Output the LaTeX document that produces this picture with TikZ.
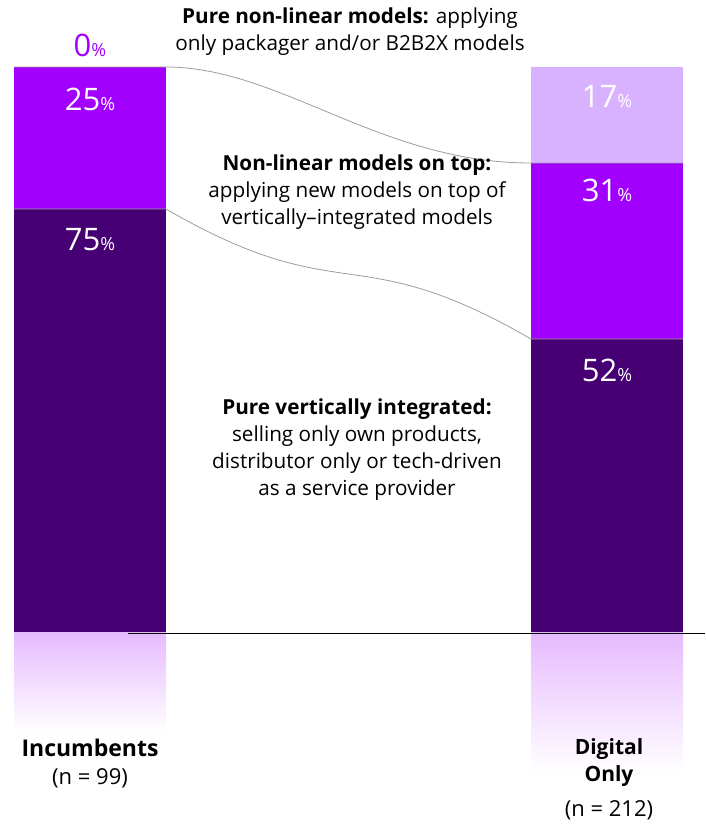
\documentclass[tikz,border=0pt]{standalone}
\usepackage{fontspec}
\setmainfont{Open Sans}
\usepackage{tikz}
\usetikzlibrary{positioning}

\definecolor{accpurple}{HTML}{A100FF}
\definecolor{accdark}{HTML}{460073}
\definecolor{acclight}{HTML}{D9B2FF}
\definecolor{accfade}{HTML}{E6BAFF}
\definecolor{flowgray}{HTML}{9C9C9C}

\newcommand{\pctsign}{{\fontsize{18}{18}\selectfont\%}}

\tikzset{
    seg/.style={minimum width=152pt, inner sep=0pt, outer sep=0pt, anchor=north west, draw=none},
    pct/.style={text=white, font=\fontsize{31}{31}\selectfont, inner sep=0pt},
    note/.style={align=center, font=\fontsize{20.7}{27}\selectfont, inner sep=0pt},
    flow/.style={draw=flowgray, line width=0.8pt},
}

\begin{document}
\begin{tikzpicture}[x=1pt, y=-1pt]
        \useasboundingbox (0,0) rectangle (705,825);

        % incumbents
        \node[seg, fill=accpurple, minimum height=142pt] (inc25) at (14,67) {};
        \node[seg, fill=accdark, minimum height=424pt] (inc75) at (14,209) {};
        \shade[top color=accfade, bottom color=white] (14,632.5) rectangle (166,732);

        % digital only
        \node[seg, fill=acclight, minimum height=96pt] (dig17) at (531,67) {};
        \node[seg, fill=accpurple, minimum height=176pt] (dig31) at (531,163) {};
        \node[seg, fill=accdark, minimum height=294pt] (dig52) at (531,339) {};
        \shade[top color=accfade, bottom color=white] (531,632.5) rectangle (683,772);

        % baseline
        \coordinate (axisL) at (128,633);
        \coordinate (axisR) at (705,633);
        \draw[black, line width=1pt] (axisL) -- (axisR);

        % flows
        \draw[flow] (inc25.north west) -- (inc25.north east)
            .. controls +(114,0) and +(-151,0) .. (dig31.north west) -- (dig31.north east);
        \draw[flow] (inc75.north west) -- (inc75.north east)
            .. controls +(178,103) and +(-178,-103) .. (dig52.north west) -- (dig52.north east);

        % percentages
        \node[pct, text=accpurple] (p0) at (90,45) {0\pctsign};
        \node[pct] (p25) at (90,99) {25\pctsign};
        \node[pct] (p75) at (90,240) {75\pctsign};
        \node[pct] (p17) at (607,97) {17\pctsign};
        \node[pct] (p31) at (607,190) {31\pctsign};
        \node[pct] (p52) at (607,370) {52\pctsign};

        % notes
        \node[note] (topnote) at (350,32) {\textbf{Pure non-linear models:} applying\\only packager and/or B2B2X models};
        \node[note] (midnote) at (357,192) {\textbf{Non-linear models on top:}\\applying new models on top of\\vertically--integrated models};
        \node[note] (lownote) at (357,450) {\textbf{Pure vertically integrated:}\\selling only own products,\\distributor only or tech-driven\\as a service provider};

        % groups
        \node[note, font=\fontsize{23}{27}\selectfont\bfseries] (incname) at (90,748) {Incumbents};
        \node[note, font=\fontsize{22}{27}\selectfont] (incn) at (90,778) {(n = 99)};
        \node[note, font=\fontsize{21}{27}\selectfont\bfseries] (digname) at (609,763) {Digital\\Only};
        \node[note, font=\fontsize{22}{27}\selectfont] (dign) at (609,810) {(n = 212)};

    \end{tikzpicture}
\end{document}
